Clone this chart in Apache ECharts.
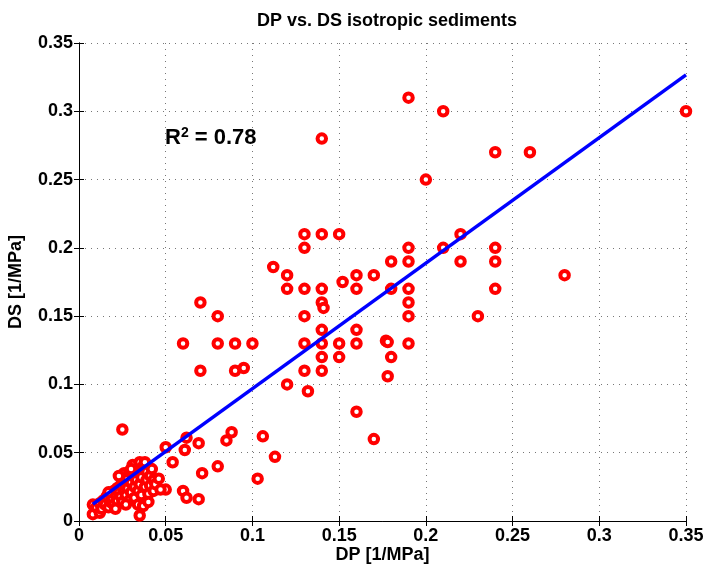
<!DOCTYPE html>
<html>
<head>
<meta charset="utf-8">
<script src="https://cdn.jsdelivr.net/npm/echarts@6/dist/echarts.min.js"></script>
<style>
  html, body { margin: 0; padding: 0; background: #fff; }
  #chart { width: 704px; height: 566px; }
</style>
</head>
<body>
<div id="chart"></div>
<script>
// measured points, [DP, DS] in 1/MPa
var scatterPoints = [
  [0.19, 0.31], [0.21, 0.30], [0.35, 0.30], [0.14, 0.28], [0.24, 0.27], [0.26, 0.27],
  [0.20, 0.25], [0.13, 0.21], [0.14, 0.21], [0.15, 0.21], [0.22, 0.21],
  [0.13, 0.20], [0.19, 0.20], [0.21, 0.20], [0.24, 0.20],
  [0.18, 0.19], [0.19, 0.19], [0.22, 0.19], [0.24, 0.19], [0.112, 0.186],
  [0.12, 0.18], [0.16, 0.18], [0.17, 0.18], [0.28, 0.18], [0.152, 0.175],
  [0.12, 0.17], [0.13, 0.17], [0.14, 0.17], [0.16, 0.17], [0.18, 0.17], [0.19, 0.17], [0.24, 0.17],
  [0.07, 0.16], [0.14, 0.16], [0.141, 0.156], [0.19, 0.16],
  [0.08, 0.15], [0.13, 0.15], [0.19, 0.15], [0.23, 0.15],
  [0.14, 0.14], [0.16, 0.14],
  [0.06, 0.13], [0.08, 0.13], [0.09, 0.13], [0.10, 0.13], [0.13, 0.13], [0.14, 0.13],
  [0.15, 0.13], [0.16, 0.13], [0.177, 0.132], [0.178, 0.131], [0.19, 0.13],
  [0.14, 0.12], [0.15, 0.12], [0.18, 0.12],
  [0.07, 0.11], [0.09, 0.11], [0.095, 0.112], [0.13, 0.11], [0.14, 0.11], [0.178, 0.106],
  [0.12, 0.10], [0.132, 0.095], [0.16, 0.08],
  [0.025, 0.067], [0.088, 0.065], [0.106, 0.062], [0.062, 0.061], [0.17, 0.06],
  [0.085, 0.059], [0.069, 0.057], [0.05, 0.054], [0.061, 0.052], [0.113, 0.047],
  [0.054, 0.043], [0.08, 0.04], [0.071, 0.035], [0.103, 0.031],
  [0.05, 0.023], [0.06, 0.022], [0.062, 0.017], [0.069, 0.016], [0.035, 0.004],
  [0.008, 0.012], [0.008, 0.005], [0.010, 0.010], [0.012, 0.006], [0.012, 0.013],
  [0.013, 0.009], [0.014, 0.015], [0.015, 0.012], [0.016, 0.018], [0.017, 0.010],
  [0.018, 0.014], [0.018, 0.020], [0.019, 0.017], [0.020, 0.022], [0.020, 0.012],
  [0.021, 0.019], [0.022, 0.024], [0.022, 0.015], [0.023, 0.021], [0.024, 0.018],
  [0.024, 0.026], [0.025, 0.030], [0.025, 0.014], [0.026, 0.022], [0.026, 0.035],
  [0.027, 0.027], [0.027, 0.019], [0.028, 0.031], [0.028, 0.024], [0.029, 0.015],
  [0.029, 0.036], [0.030, 0.028], [0.030, 0.021], [0.031, 0.041], [0.031, 0.033],
  [0.032, 0.025], [0.032, 0.017], [0.033, 0.038], [0.033, 0.030], [0.034, 0.022],
  [0.034, 0.012], [0.035, 0.043], [0.035, 0.035], [0.035, 0.027], [0.036, 0.019],
  [0.036, 0.032], [0.037, 0.040], [0.037, 0.011], [0.038, 0.043], [0.038, 0.025],
  [0.039, 0.030], [0.039, 0.036], [0.040, 0.020], [0.040, 0.014], [0.041, 0.033],
  [0.041, 0.026], [0.042, 0.038], [0.043, 0.030], [0.043, 0.022], [0.044, 0.027],
  [0.046, 0.031], [0.047, 0.023], [0.021, 0.009], [0.017, 0.021], [0.023, 0.033],
  [0.030, 0.038], [0.027, 0.012]
];
// fitted line end points
var fitLine = [[0.008, 0.0124], [0.35, 0.3267]];
var rSquared = "0.78";

var font = "Liberation Sans";
var myChart = echarts.init(document.getElementById("chart"));

function mainAxis(name, nameGap, labelMargin) {
  return {
    type: "value",
    min: 0,
    max: 0.35,
    interval: 0.05,
    name: name,
    nameLocation: "middle",
    nameGap: nameGap,
    nameMoveOverlap: false,
    nameTextStyle: { color: "#000", fontFamily: font, fontWeight: "bold", fontSize: 18 },
    axisLine: { show: true, lineStyle: { color: "#000", width: 1 } },
    axisTick: { show: true, inside: true, length: 5, lineStyle: { color: "#000" } },
    axisLabel: { color: "#000", fontFamily: font, fontWeight: "bold", fontSize: 18, margin: labelMargin },
    splitLine: { show: true, lineStyle: { type: [1, 5], color: "#777", width: 1 } }
  };
}

function boxAxis(pos) {
  return {
    type: "value",
    position: pos,
    min: 0,
    max: 0.35,
    interval: 0.05,
    axisLine: { show: true, lineStyle: { color: "#000", width: 1 } },
    axisTick: { show: true, inside: true, length: 5, lineStyle: { color: "#000" } },
    axisLabel: { show: false },
    splitLine: { show: false }
  };
}

var xMain = mainAxis("DP [1/MPa]", 25, 6);
var yMain = mainAxis("DS [1/MPa]", 54, 6);

var option = {
  animation: false,
  backgroundColor: "#fff",
  title: {
    text: "DP vs. DS isotropic sediments",
    left: 382,
    textAlign: "center",
    top: 7,
    textStyle: { color: "#000", fontFamily: font, fontWeight: "bold", fontSize: 18 }
  },
  grid: { left: 79, right: 18, top: 43, bottom: 45, outerBoundsMode: "none", containLabel: false },
  xAxis: [xMain, boxAxis("top")],
  yAxis: [yMain, boxAxis("right")],
  graphic: [{
    type: "text",
    left: 165,
    top: 126,
    style: {
      text: "{b|R}{s|2}{b| = " + rSquared + "}",
      rich: {
        b: { fontFamily: font, fontWeight: "bold", fontSize: 22, fill: "#000" },
        s: { fontFamily: font, fontWeight: "bold", fontSize: 14, fill: "#000", padding: [0, 0, 10, 0] }
      }
    }
  }],
  series: [
    {
      type: "scatter",
      data: scatterPoints,
      symbol: "circle",
      symbolSize: 8.5,
      itemStyle: { color: "#fff", borderColor: "#ff0000", borderWidth: 4, opacity: 1 },
      z: 2
    },
    {
      type: "line",
      data: fitLine,
      showSymbol: false,
      symbol: "none",
      lineStyle: { color: "#0000ff", width: 3.5 },
      z: 3
    }
  ]
};

myChart.setOption(option);
window.addEventListener("resize", function() {
  myChart.resize();
});
</script>
</body>
</html>
